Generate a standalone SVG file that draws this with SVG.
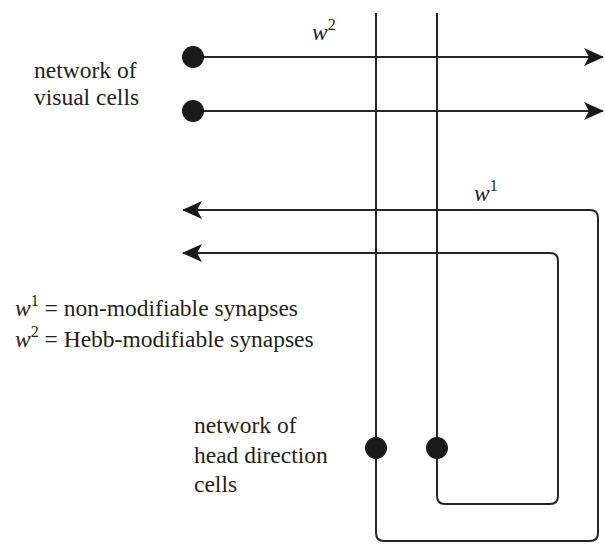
<svg xmlns="http://www.w3.org/2000/svg" width="605" height="544" viewBox="0 0 605 544">
<style>
.ln{fill:none;stroke:#262626;stroke-width:2;}
.dot{fill:#1a1a1a;}
.tx{font-family:"Liberation Serif","Times New Roman",serif;fill:#231f20;font-size:23.5px;}
.it{font-style:italic;}
.sup{font-size:16px;}
</style>
<defs>
<marker id="arr" viewBox="0 0 20 18" refX="19" refY="9" markerWidth="20" markerHeight="18" markerUnits="userSpaceOnUse" orient="auto">
<path d="M0,0 L20,9 L0,18 L5,9 Z" fill="#1a1a1a"/>
</marker>
</defs>
<rect width="605" height="544" fill="#fff"/>
<g id="connectors">
<path class="ln" d="M193,57 H603" marker-end="url(#arr)"/>
<path class="ln" d="M193,111 H603" marker-end="url(#arr)"/>
<path class="ln" d="M376,13 V533 Q376,541 384,541 H590 Q598,541 598,533 V218 Q598,210 590,210 H183" marker-end="url(#arr)"/>
<path class="ln" d="M437,13 V496 Q437,504 445,504 H550 Q558,504 558,496 V261 Q558,253 550,253 H183" marker-end="url(#arr)"/>
</g>
<g id="visual-cells" class="tx">
<circle class="dot" cx="193" cy="57" r="11"/>
<circle class="dot" cx="193" cy="111" r="11"/>
<text x="34" y="78">network of</text>
<text x="34" y="105">visual cells</text>
</g>
<g id="head-direction-cells" class="tx">
<circle class="dot" cx="376" cy="448" r="11"/>
<circle class="dot" cx="437" cy="448" r="11"/>
<text x="194" y="433">network of</text>
<text x="194" y="463">head direction</text>
<text x="194" y="492">cells</text>
</g>
<g id="labels" class="tx">
<text x="312" y="40"><tspan class="it">w</tspan><tspan class="sup" dy="-10">2</tspan></text>
<text x="474" y="201"><tspan class="it">w</tspan><tspan class="sup" dy="-10">1</tspan></text>
</g>
<g id="legend" class="tx">
<text x="15" y="316"><tspan class="it">w</tspan><tspan class="sup" dy="-10">1</tspan><tspan dy="10"> = non-modifiable synapses</tspan></text>
<text x="15" y="347"><tspan class="it">w</tspan><tspan class="sup" dy="-10">2</tspan><tspan dy="10"> = Hebb-modifiable synapses</tspan></text>
</g>
</svg>
